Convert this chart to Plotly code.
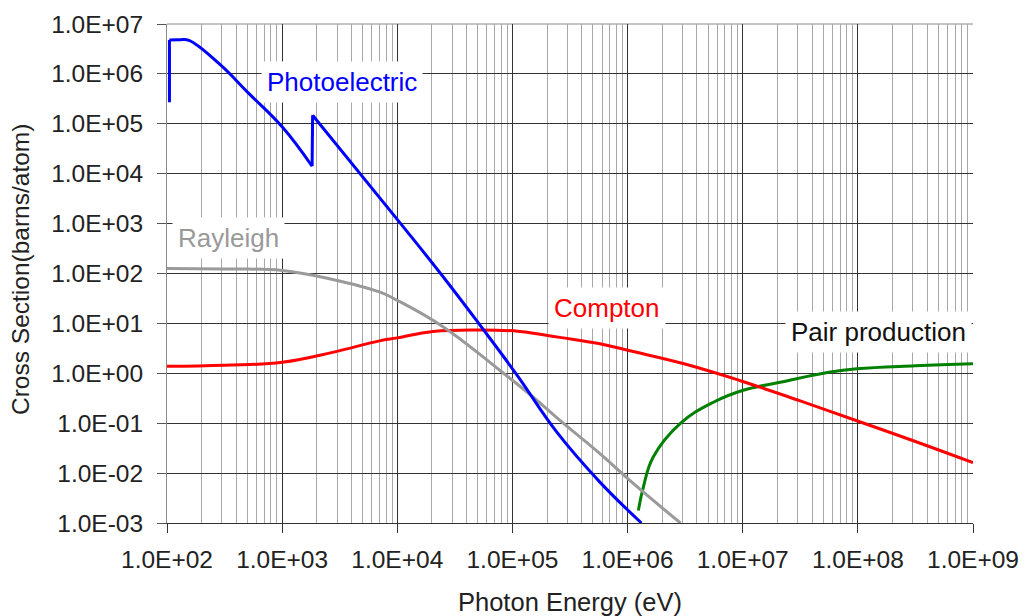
import plotly.graph_objects as go

# Photon energy (eV) and cross section (barns/atom) for each interaction process.
# The photoelectric curve is split at its absorption edges so the smooth parts
# can be drawn as splines while the edges stay vertical.
photo_rise_energy = [105, 105]
photo_rise_xs = [2.7e5, 4.8e6]
photo_low_energy = [105, 130, 155, 282, 513, 1000, 1820]
photo_low_xs = [4.8e6, 4.85e6, 4.7e6, 1.62e6, 4.07e5, 8.7e4, 1.41e4]
photo_edge_energy = [1820, 1840]
photo_edge_xs = [1.41e4, 1.48e5]
photo_high_energy = [1840, 10700, 25100, 53700, 110000, 243000, 575000, 1320000]
photo_high_xs = [1.48e5, 1000, 85, 8.5, 0.91, 0.066, 6.6e-3, 1.0e-3]

rayleigh_energy = [100, 316, 1000, 2750, 7000, 10000, 25100, 77600, 148000, 257000,
                   575000, 1.12e6, 2.88e6]
rayleigh_xs = [126, 123, 115, 76, 42.7, 29, 8.5, 1.15, 0.347, 0.115, 0.0245, 6.2e-3,
               1.0e-3]

compton_energy = [100, 316, 1000, 2750, 7000, 10000, 20400, 52500, 115000, 257000, 575000,
                  1.05e6, 3.09e6, 9.55e6, 3.16e7, 9.8e7, 3.16e8, 1e9]
compton_xs = [1.38, 1.45, 1.66, 2.63, 4.47, 5.13, 6.9, 7.4, 6.9, 5.25, 3.9, 2.82, 1.55,
              0.71, 0.28, 0.112, 0.043, 0.0162]

pair_energy = [1.24e6, 1.37e6, 1.67e6, 2.86e6, 5.56e6, 1.01e7, 2.11e7, 5.75e7, 9.8e7,
               3.16e8, 1e9]
pair_xs = [1.78e-3, 5.2e-3, 0.021, 0.098, 0.263, 0.457, 0.66, 1.06, 1.23, 1.41, 1.55]

x_tick_vals = [1e2, 1e3, 1e4, 1e5, 1e6, 1e7, 1e8, 1e9]
x_tick_text = ["1.0E+02", "1.0E+03", "1.0E+04", "1.0E+05", "1.0E+06", "1.0E+07",
               "1.0E+08", "1.0E+09"]
y_tick_vals = [1e-3, 1e-2, 1e-1, 1e0, 1e1, 1e2, 1e3, 1e4, 1e5, 1e6, 1e7]
y_tick_text = ["1.0E-03", "1.0E-02", "1.0E-01", "1.0E+00", "1.0E+01", "1.0E+02",
               "1.0E+03", "1.0E+04", "1.0E+05", "1.0E+06", "1.0E+07"]
x_minor_vals = [m * 10 ** d for d in range(2, 9) for m in range(2, 10)]

FONT = "Arial, Liberation Sans, sans-serif"
SMOOTH = dict(width=3, shape="spline", smoothing=1.2)


def joined(*segments):
    """Concatenate curve segments with None gaps between them."""
    out = []
    for i, seg in enumerate(segments):
        if i:
            out.append(None)
        out.extend(seg)
    return out


fig = go.Figure()
fig.add_trace(go.Scatter(x=pair_energy, y=pair_xs, mode="lines", name="Pair production",
                         line=dict(color="#008000", **SMOOTH)))
fig.add_trace(go.Scatter(x=compton_energy, y=compton_xs, mode="lines", name="Compton",
                         line=dict(color="#ff0000", **SMOOTH)))
fig.add_trace(go.Scatter(x=rayleigh_energy, y=rayleigh_xs, mode="lines", name="Rayleigh",
                         line=dict(color="#9a9a9a", **SMOOTH)))
fig.add_trace(go.Scatter(
    x=joined(photo_rise_energy, photo_low_energy, photo_edge_energy, photo_high_energy),
    y=joined(photo_rise_xs, photo_low_xs, photo_edge_xs, photo_high_xs),
    mode="lines", name="Photoelectric", connectgaps=False,
    line=dict(color="#0000ff", **SMOOTH)))

# Curve labels on white boxes (positions in log10 axis units)
labels = [
    ("Photoelectric", 3.52, 5.83, "#0000ff"),
    ("Rayleigh", 2.53, 2.71, "#999999"),
    ("Compton", 5.82, 1.31, "#ff0000"),
    ("Pair production", 8.18, 0.82, "#111111"),
]
for text, lx, ly, color in labels:
    fig.add_annotation(x=lx, y=ly, xref="x", yref="y", text=text, showarrow=False,
                       font=dict(family=FONT, size=26, color=color),
                       bgcolor="white", borderpad=5)

# Axis titles
fig.add_annotation(x=0.5, y=-0.158, xref="paper", yref="paper",
                   text="Photon Energy (eV)", showarrow=False,
                   xanchor="center", yanchor="middle",
                   font=dict(family=FONT, size=25.5, color="#222"))
fig.add_annotation(x=-0.1824, y=0.509, xref="paper", yref="paper",
                   text="Cross Section(barns/atom)", showarrow=False, textangle=-90,
                   xanchor="center", yanchor="middle",
                   font=dict(family=FONT, size=24.5, color="#222"))

# grey frame line along the top of the plot area
fig.add_shape(type="line", xref="paper", yref="paper", x0=0, x1=1, y0=1, y1=1,
              line=dict(color="#8a8a8a", width=1), layer="below")

fig.update_xaxes(
    type="log", range=[2, 9], automargin=False,
    tickmode="array", tickvals=x_tick_vals, ticktext=x_tick_text,
    tickfont=dict(family=FONT, size=24.5, color="#222"),
    ticks="outside", ticklen=9, tickcolor="#333", ticklabelstandoff=6,
    showgrid=True, gridcolor="#333", gridwidth=1,
    minor=dict(tickmode="array", tickvals=x_minor_vals, showgrid=True,
               gridcolor="#a8a8a8", gridwidth=1, ticks=""),
    showline=True, linecolor="#333", linewidth=1,
    zeroline=False,
)
fig.update_yaxes(
    type="log", range=[-3, 7], automargin=False,
    tickmode="array", tickvals=y_tick_vals, ticktext=y_tick_text,
    tickfont=dict(family=FONT, size=24.5, color="#222"),
    ticks="outside", ticklen=9, tickcolor="#555", ticklabelstandoff=9,
    showgrid=True, gridcolor="#333", gridwidth=1,
    showline=True, linecolor="#8a8a8a", linewidth=1,
    zeroline=False,
)

fig.update_layout(
    width=1024, height=616,
    margin=dict(l=167, r=51, t=24, b=93),
    paper_bgcolor="white", plot_bgcolor="white",
    showlegend=False,
    font=dict(family=FONT),
)

fig.write_html("out.html")
